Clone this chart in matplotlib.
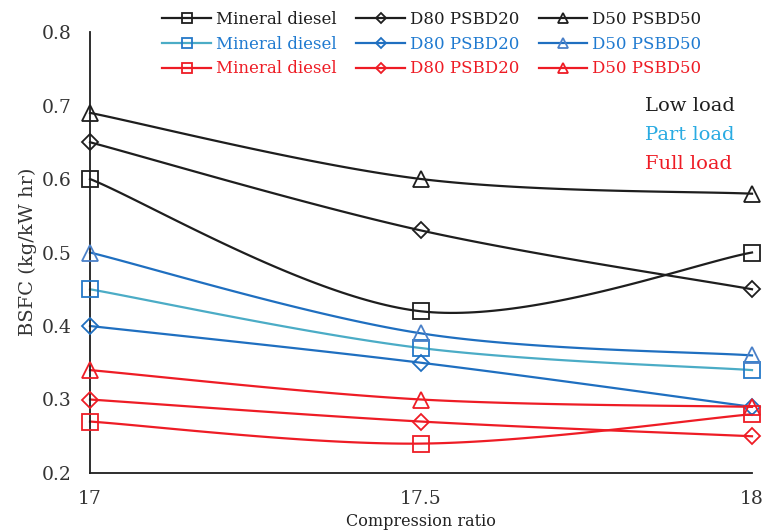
import numpy as np
import matplotlib
matplotlib.use("Agg")
import matplotlib.pyplot as plt
from matplotlib.lines import Line2D

x = [17.0, 17.5, 18.0]
series_names = ["Mineral diesel", "D80 PSBD20", "D50 PSBD50"]
low_load = {"Mineral diesel": [0.60, 0.42, 0.50],
            "D80 PSBD20": [0.65, 0.53, 0.45],
            "D50 PSBD50": [0.69, 0.60, 0.58]}
part_load = {"Mineral diesel": [0.45, 0.37, 0.34],
             "D80 PSBD20": [0.40, 0.35, 0.29],
             "D50 PSBD50": [0.50, 0.39, 0.36]}
full_load = {"Mineral diesel": [0.27, 0.24, 0.28],
             "D80 PSBD20": [0.30, 0.27, 0.25],
             "D50 PSBD50": [0.34, 0.30, 0.29]}
y_ticks = [0.2, 0.3, 0.4, 0.5, 0.6, 0.7, 0.8]
x_ticks = [17, 17.5, 18]
load_labels = ["Low load", "Part load", "Full load"]

SERIF = ["DejaVu Serif", "Liberation Serif"]
markers = {"Mineral diesel": ("s", 12), "D80 PSBD20": ("D", 8), "D50 PSBD50": ("^", 12)}

BLACK = "#1e1e1e"
RED = "#ee1c25"
styles = {
    "low": {"Mineral diesel": (BLACK, BLACK), "D80 PSBD20": (BLACK, BLACK), "D50 PSBD50": (BLACK, BLACK)},
    "part": {"Mineral diesel": ("#4bacc6", "#2478c8"), "D80 PSBD20": ("#1f6fc0", "#1f6fc0"),
             "D50 PSBD50": ("#1f6fc0", "#4a80c8")},
    "full": {"Mineral diesel": (RED, RED), "D80 PSBD20": (RED, RED), "D50 PSBD50": (RED, RED)},
}
text_colors = {"low": BLACK, "part": "#1f7ad0", "full": RED}
label_colors = [BLACK, "#29abe2", RED]


def smooth(xs, ys, n=60):
    xs = np.asarray(xs, float)
    ys = np.asarray(ys, float)
    P = np.column_stack([xs, ys])
    out = []
    for i in range(len(P) - 1):
        p0 = P[i - 1] if i > 0 else P[i]
        p1 = P[i]
        p2 = P[i + 1]
        p3 = P[i + 2] if i + 2 < len(P) else P[i + 1]
        c1 = p1 + (p2 - p0) / 6.0
        c2 = p2 - (p3 - p1) / 6.0
        t = np.linspace(0, 1, n)[:, None]
        seg = ((1 - t) ** 3) * p1 + 3 * ((1 - t) ** 2) * t * c1 + 3 * (1 - t) * t ** 2 * c2 + t ** 3 * p2
        out.append(seg if i == 0 else seg[1:])
    out = np.vstack(out)
    return out[:, 0], out[:, 1]


fig = plt.figure(figsize=(7.66, 5.31), dpi=100)
ax = fig.add_axes([90 / 766, 1 - 473 / 531, 662 / 766, 441 / 531])

datasets = [("low", low_load), ("part", part_load), ("full", full_load)]
for key, data in datasets:
    for name in series_names:
        lc, mc = styles[key][name]
        sx, sy = smooth(x, data[name])
        ax.plot(sx, sy, color=lc, lw=1.6, zorder=2, clip_on=False)
        m, ms = markers[name]
        ax.plot(x, data[name], linestyle="none", marker=m, markersize=ms,
                markerfacecolor="none", markeredgecolor=mc, markeredgewidth=1.3,
                zorder=3, clip_on=False)

ax.set_xlim(17, 18)
ax.set_ylim(0.2, 0.8)
ax.set_xticks(x_ticks)
ax.set_xticklabels(["17", "17.5", "18"])
ax.set_yticks(y_ticks)
ax.set_yticklabels([f"{v:.1f}" for v in y_ticks])
ax.tick_params(length=0, labelsize=13.5, colors="#333333")
ax.tick_params(axis="y", pad=13)
ax.tick_params(axis="x", pad=12)
for lab in ax.get_xticklabels() + ax.get_yticklabels():
    lab.set_family(SERIF)
for s in ["top", "right"]:
    ax.spines[s].set_visible(False)
for s in ["left", "bottom"]:
    ax.spines[s].set_color(BLACK)
    ax.spines[s].set_linewidth(1.3)

fig.text(28 / 766, 1 - 252 / 531, "BSFC (kg/kW hr)", rotation=90, ha="center", va="center",
         fontsize=14, family=SERIF, color="#333333")
fig.text(421 / 766, 1 - 521 / 531, "Compression ratio", ha="center", va="center",
         fontsize=11.5, family=SERIF, color="#222222")

# legend: columns = series, rows = loads
handles, labels = [], []
for name in series_names:
    for key, _ in datasets:
        lc, mc = styles[key][name]
        m, ms = markers[name]
        handles.append(Line2D([0], [0], color=lc, lw=1.6, marker=m,
                              markersize=ms * 0.6, markerfacecolor="none",
                              markeredgecolor=mc, markeredgewidth=1.3))
        labels.append(name)
leg = fig.legend(handles, labels, ncol=3, loc="upper center",
                 bbox_to_anchor=(432 / 766, 1.008), frameon=False,
                 prop={"family": SERIF, "size": 12}, handlelength=2.9,
                 handletextpad=0.3, columnspacing=1.2, labelspacing=0.47)
i = 0
for name in series_names:
    for key, _ in datasets:
        leg.get_texts()[i].set_color(text_colors[key])
        i += 1

for j, (txt, col) in enumerate(zip(load_labels, label_colors)):
    fig.text(645 / 766, 1 - (106 + 29 * j) / 531, txt, fontsize=14, family=SERIF,
             color=col, ha="left", va="center")

fig.savefig("out.png", dpi=100)
